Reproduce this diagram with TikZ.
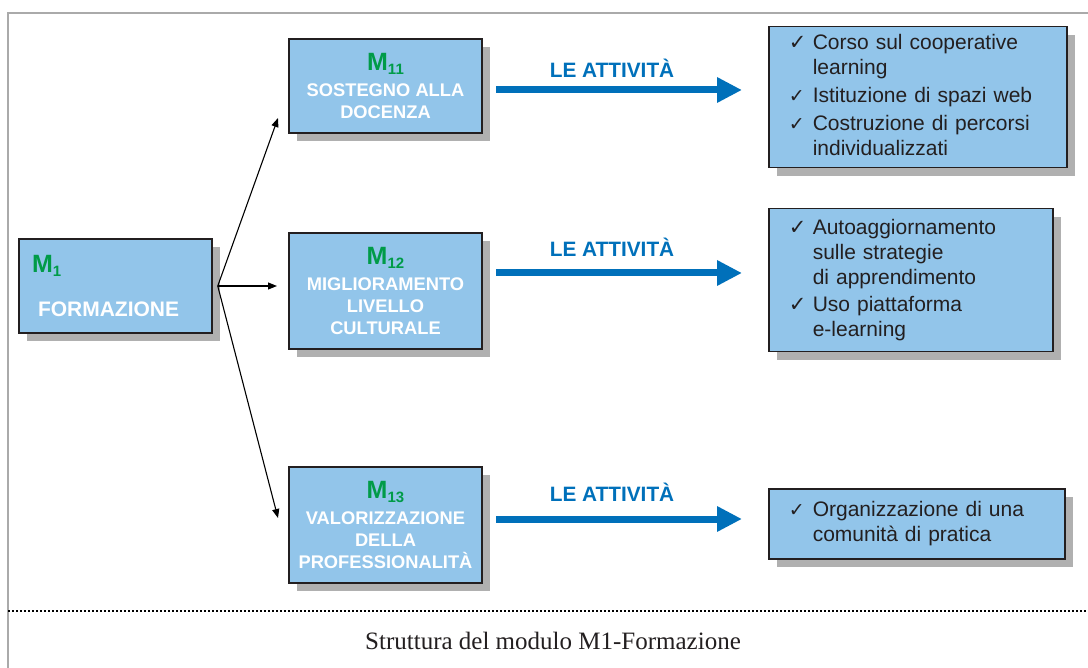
\documentclass[tikz,border=0pt]{standalone}
\usepackage{fontspec}
\setmainfont{Liberation Sans}
\newfontfamily\capfont{Liberation Serif}
\newfontfamily\symfont{DejaVu Sans}
\usetikzlibrary{arrows.meta,shadows}
\definecolor{boxblue}{RGB}{146,197,234}
\definecolor{mgreen}{RGB}{0,155,72}
\definecolor{arrowblue}{RGB}{0,112,186}
\definecolor{shadowgray}{RGB}{176,176,176}
\definecolor{framegray}{RGB}{170,170,170}
\definecolor{inkdark}{RGB}{35,31,32}
\newcommand{\modname}[1]{{\color{mgreen}\bfseries\fontsize{25}{25}\selectfont M\raisebox{-4pt}{\bfseries\fontsize{15}{15}\selectfont #1}}}
\newcommand{\chkbig}{\makebox[24pt][l]{\symfont\bfseries\fontsize{21}{21}\selectfont ✓}}
\newcommand{\chksmall}{\makebox[24pt][l]{\symfont\fontsize{19}{19}\selectfont ✓}}

\begin{document}
\begin{tikzpicture}[x=1pt,y=-1pt,
    boxshadow/.style={drop shadow={shadow xshift=8pt,shadow yshift=-8pt,fill=shadowgray,opacity=1}},
    mbox/.style={draw=inkdark,line width=1.5pt,fill=boxblue,boxshadow,minimum width=193pt,
        inner sep=0pt,text=white,align=center,font=\bfseries\fontsize{18.3}{22}\selectfont},
    actbox/.style={draw=inkdark,line width=1.5pt,fill=boxblue,boxshadow,anchor=north west,
        inner xsep=20pt,inner ysep=0pt,align=left,text=inkdark,font=\fontsize{21}{25}\selectfont},
    actlabel/.style={text=arrowblue,font=\bfseries\fontsize{20.8}{22}\selectfont},
    actarrow/.style={arrowblue,line width=7pt,-{Triangle[length=25pt,width=24pt]}},
    forkarrow/.style={black,line width=1.1pt,-{Triangle[length=9pt,width=7pt]}}]
    \useasboundingbox (0,0) rectangle (1088,668);
    \draw[framegray,line width=1.5pt] (8,668) -- (8,13) -- (1088,13);
    \node[mbox,minimum height=94pt,text width=167pt,inner xsep=13pt,align=left,
        font=\bfseries\fontsize{21}{22}\selectfont] (m1) at (115.5,286)
        {\modname{1}\\[22pt]\hspace*{6pt}FORMAZIONE};
    \node[mbox,minimum height=94pt] (m11) at (385.5,86)
        {\modname{11}\\[4pt]SOSTEGNO ALLA\\DOCENZA};
    \node[mbox,minimum height=116pt] (m12) at (385.5,291)
        {\modname{12}\\[4pt]MIGLIORAMENTO\\LIVELLO\\CULTURALE};
    \node[mbox,minimum height=116pt] (m13) at (385.5,525)
        {\modname{13}\\[4pt]VALORIZZAZIONE\\DELLA\\PROFESSIONALITÀ};
    \node[actbox,text width=258pt,minimum height=141pt] (a11) at (768,26)
        {\begin{tabular}{@{}l@{}l@{}}
        \chkbig & Corso sul cooperative\\
         & learning\\[3pt]
        \chksmall & Istituzione di spazi web\\[3pt]
        \chksmall & Costruzione di percorsi\\
         & individualizzati
        \end{tabular}};
    \node[actbox,text width=244pt,minimum height=143pt] (a12) at (768,208)
        {\begin{tabular}{@{}l@{}l@{}}
        \chkbig & Autoaggiornamento\\
         & sulle strategie\\
         & di apprendimento\\[2pt]
        \chkbig & Uso piattaforma\\
         & e-learning
        \end{tabular}};
    \node[actbox,text width=256pt,minimum height=70pt] (a13) at (768,488)
        {\begin{tabular}{@{}l@{}l@{}}
        \chksmall & Organizzazione di una\\
         & comunità di pratica
        \end{tabular}};
    \coordinate (fork) at ([xshift=5pt]m1.east);
    \coordinate (t11) at (278,118);
    \coordinate (t12) at (277,286);
    \coordinate (t13) at (278,518);
    \draw[forkarrow] (fork) -- (t11);
    \draw[forkarrow] (fork) -- (t12);
    \draw[forkarrow] (fork) -- (t13);
    \coordinate (s11) at (496,90);
    \coordinate (e11) at (742,90);
    \coordinate (s12) at (496,273);
    \coordinate (e12) at (742,273);
    \coordinate (s13) at (496,519);
    \coordinate (e13) at (742,519);
    \draw[actarrow] (s11) -- (e11);
    \draw[actarrow] (s12) -- (e12);
    \draw[actarrow] (s13) -- (e13);
    \node[actlabel] (l11) at (612,68) {LE ATTIVITÀ};
    \node[actlabel] (l12) at (612,247) {LE ATTIVITÀ};
    \node[actlabel] (l13) at (612,492) {LE ATTIVITÀ};
    \draw[line width=1.5pt,dash pattern=on 1.5pt off 2.5pt] (8,611) -- (1088,611);
    \node[text=inkdark,font=\capfont\fontsize{25}{25}\selectfont] (caption) at (553,641)
        {Struttura del modulo M1-Formazione};
\end{tikzpicture}
\end{document}
